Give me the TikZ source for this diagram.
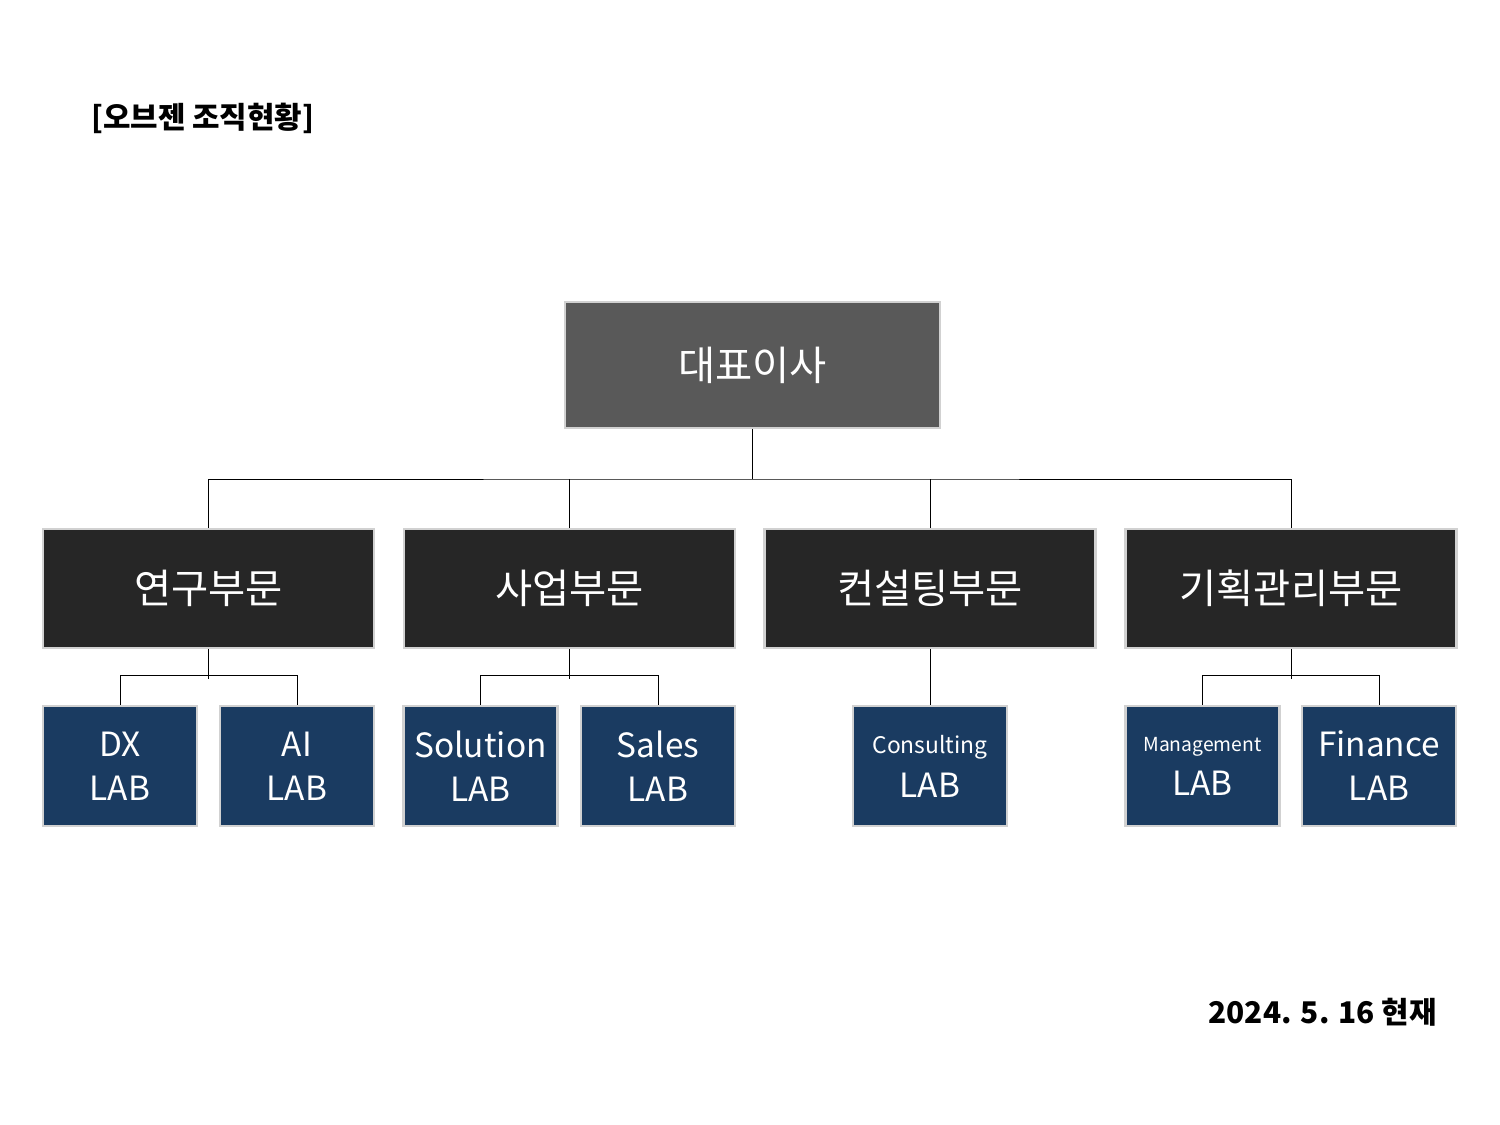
\documentclass[tikz,border=0pt]{standalone}
\usepackage{fontspec}
\setmainfont{Noto Sans CJK KR}
\begin{document}
\begin{tikzpicture}[x=0.02cm,y=-0.02cm,
  box/.style={draw=black!18,line width=1.6pt,text=white,inner sep=0pt,align=center},
  ceo/.style={box,fill=black!65,minimum width=375*0.02cm,minimum height=126*0.02cm,font=\fontsize{23}{26}\selectfont},
  div/.style={box,fill=black!85,minimum width=331*0.02cm,minimum height=119*0.02cm,font=\fontsize{23}{26}\selectfont},
  lab/.style={box,fill=blue!40!black!70!cyan!30!black,fill={rgb,255:red,26;green,59;blue,97},minimum width=154*0.02cm,minimum height=120*0.02cm,font=\fontsize{19}{25}\selectfont},
  conn/.style={draw=black,line width=0.5pt}]
\useasboundingbox (0,0) rectangle (1500,1125);
\node[anchor=west,font=\bfseries\fontsize{17}{20}\selectfont] (title) at (85,118) {[오브젠 조직현황]};
\node[anchor=east,font=\bfseries\fontsize{17}{20}\selectfont] (date) at (1443,1012) {2024. 5. 16 현재};
\node[ceo] (ceo) at (752.5,365) {대표이사};
\node[div] (d1) at (208.5,588.5) {연구부문};
\node[div] (d2) at (569.5,588.5) {사업부문};
\node[div] (d3) at (930,588.5) {컨설팅부문};
\node[div] (d4) at (1291,588.5) {기획관리부문};
\node[lab] (l1) at (120,766) {DX\\LAB};
\node[lab] (l2) at (297,766) {AI\\LAB};
\node[lab] (l3) at (480.5,766) {Solution\\LAB};
\node[lab] (l4) at (658,766) {Sales\\LAB};
\node[lab] (l5) at (930,766) {{\fontsize{13}{18}\selectfont Consulting}\\LAB};
\node[lab] (l6) at (1202.5,766) {{\fontsize{11}{16}\selectfont Management}\\LAB};
\node[lab] (l7) at (1379,766) {Finance\\LAB};
\coordinate (hub) at (752.5,479);
\draw[conn,line width=1pt] (ceo.south) -- (hub);
\draw[conn] (d1.north) |- (hub) -| (d4.north);
\draw[conn] (d2.north) -- (d2.north|-hub);
\draw[conn] (d3.north) -- (d3.north|-hub);
\foreach \d/\a/\b in {d1/l1/l2,d2/l3/l4,d4/l6/l7}{
  \draw[conn] (\d.south) -- ++(0,30);
  \draw[conn] (\a.north) -- ++(0,-29) -| (\b.north);
}
\draw[conn] (d3.south) -- (l5.north);
\end{tikzpicture}
\end{document}
